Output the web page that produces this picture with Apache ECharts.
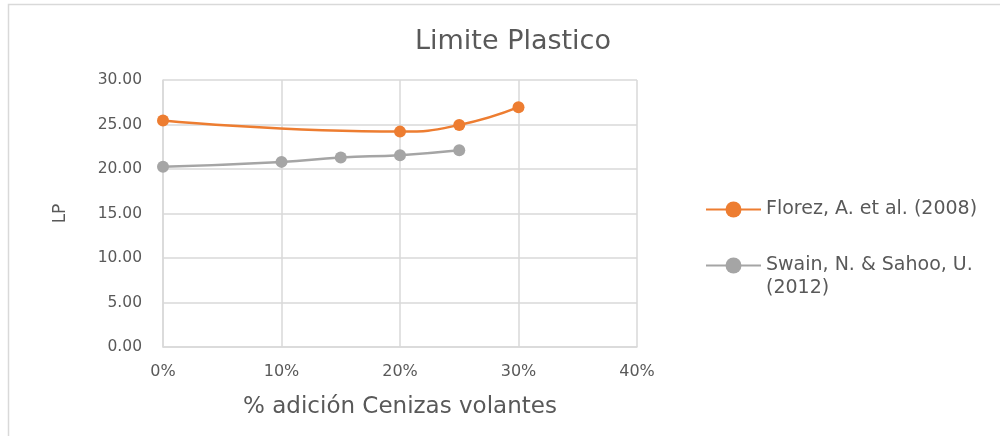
<!DOCTYPE html>
<html lang="es">

<head>
    <meta charset="UTF-8">
    <title>Limite Plastico</title>
    <style>
        html, body {
            margin: 0;
            padding: 0;
            background: #fff;
        }

        #chart {
            width: 1000px;
            height: 436px;
        }
    </style>
</head>

<body>
    <div id="chart"></div>
    <script src="https://cdn.jsdelivr.net/npm/echarts@6/dist/echarts.min.js"></script>
    <script>
        // datos
        var florezX = [0, 0.20, 0.25, 0.30]
        var florezLP = [25.45, 24.2, 24.95, 26.95]
        var swainX = [0, 0.10, 0.15, 0.20, 0.25]
        var swainLP = [20.25, 20.8, 21.3, 21.55, 22.1]
        var xTicks = [0, 0.1, 0.2, 0.3, 0.4]
        var yTicks = [0, 5, 10, 15, 20, 25, 30]
        var nameFlorez = 'Florez, A. et al. (2008)'
        var nameSwain = 'Swain, N. & Sahoo, U.\n(2012)'

        var font = 'DejaVu Sans'
        var txt = '#595959'

        function pairs(xs, ys) {
            var out = []
            for (var i = 0; i < xs.length; i++) out.push([xs[i], ys[i]])
            return out
        }

        var chart = echarts.init(document.getElementById('chart'))
        chart.setOption({
            animation: false,
            title: {
                text: 'Limite Plastico',
                left: 508,
                top: 23,
                textAlign: 'center',
                textStyle: { fontFamily: font, fontWeight: 'normal', fontSize: 27, color: txt }
            },
            graphic: [{
                type: 'rect',
                shape: { x: 8.5, y: 4.5, width: 1100, height: 600 },
                style: { fill: 'none', stroke: '#d9d9d9', lineWidth: 1.5 },
                silent: true
            }],
            legend: [{
                data: [nameFlorez],
                orient: 'vertical',
                left: 700,
                top: 193,
                itemWidth: 55,
                itemHeight: 20,
                textStyle: { fontFamily: font, fontSize: 19, color: txt, lineHeight: 23 }
            }, {
                data: [nameSwain],
                orient: 'vertical',
                left: 700,
                top: 226,
                itemWidth: 55,
                itemHeight: 20,
                // linea en blanco arriba para que el icono quede en la primera linea
                formatter: function (n) { return ' \n' + n },
                textStyle: { fontFamily: font, fontSize: 19, color: txt, lineHeight: 23 }
            }],
            grid: { left: 163, right: 363, top: 80, bottom: 89, containLabel: false },
            xAxis: {
                type: 'value',
                min: xTicks[0],
                max: xTicks[xTicks.length - 1],
                interval: 0.1,
                name: '% adición Cenizas volantes',
                nameLocation: 'middle',
                nameGap: 49,
                nameTextStyle: { fontFamily: font, fontSize: 23, color: txt },
                axisLine: { show: true, lineStyle: { color: '#d9d9d9', width: 1.5 } },
                axisTick: { show: false },
                splitLine: { show: true, lineStyle: { color: '#d9d9d9', width: 1.5 } },
                axisLabel: {
                    margin: 17,
                    fontFamily: font,
                    fontSize: 16,
                    color: txt,
                    formatter: function (v) { return Math.round(v * 100) + '%' }
                }
            },
            yAxis: {
                type: 'value',
                min: yTicks[0],
                max: yTicks[yTicks.length - 1],
                interval: 5,
                name: 'LP',
                nameLocation: 'middle',
                nameGap: 94,
                nameTextStyle: { fontFamily: font, fontSize: 17, color: txt },
                axisLine: { show: true, lineStyle: { color: '#d9d9d9', width: 1.5 } },
                axisTick: { show: false },
                splitLine: { show: true, lineStyle: { color: '#d9d9d9', width: 1.5 } },
                axisLabel: {
                    margin: 21,
                    fontFamily: font,
                    fontSize: 15.5,
                    color: txt,
                    formatter: function (v) { return v.toFixed(2) }
                }
            },
            series: [{
                name: nameFlorez,
                type: 'line',
                data: pairs(florezX, florezLP),
                smooth: true,
                symbol: 'circle',
                symbolSize: 12,
                itemStyle: { color: '#ed7d31' },
                lineStyle: { color: '#ed7d31', width: 2.5 }
            }, {
                name: nameSwain,
                type: 'line',
                data: pairs(swainX, swainLP),
                smooth: true,
                symbol: 'circle',
                symbolSize: 12,
                itemStyle: { color: '#a5a5a5' },
                lineStyle: { color: '#a5a5a5', width: 2.5 }
            }]
        })
    </script>
</body>

</html>
